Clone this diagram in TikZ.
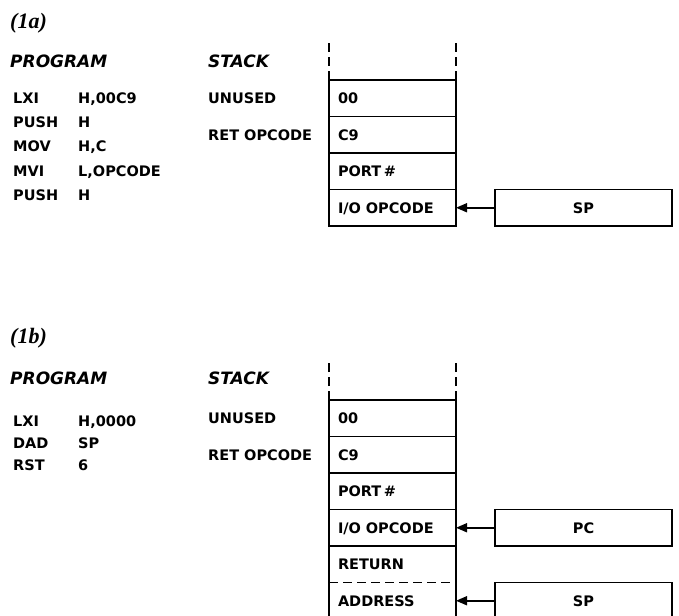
\documentclass[tikz,border=0pt]{standalone}
\usepackage{fontspec}
\setmainfont{DejaVu Sans}
\newfontfamily\capfont{Liberation Serif}
\usetikzlibrary{arrows.meta, positioning, calc}

\begin{document}
\begin{tikzpicture}[
  x=1pt, y=-1pt,
  cell/.style={rectangle, draw, line width=1.6pt, minimum height=36.5pt,
    minimum width=127pt, text width=109pt, inner xsep=9pt, outer sep=0pt,
    text height=10.5pt, text depth=0pt, align=left,
    font=\fontsize{14.5}{16}\selectfont\bfseries},
  reg/.style={rectangle, draw, line width=1.6pt, minimum height=36.5pt,
    minimum width=177pt, outer sep=0pt, text height=10.5pt, text depth=0pt,
    font=\fontsize{14.5}{16}\selectfont\bfseries},
  lbl/.style={anchor=west, inner sep=0pt, text height=10.5pt, text depth=0pt,
    font=\fontsize{14.5}{16}\selectfont\bfseries},
  head/.style={anchor=west, inner sep=0pt, text height=12.5pt, text depth=0pt,
    font=\fontsize{17}{20}\selectfont\bfseries\itshape},
  tag/.style={anchor=west, inner sep=0pt,
    font=\capfont\fontsize{22}{26}\selectfont\bfseries\itshape},
  signal/.style={-{Triangle[length=11pt, width=9pt]}, line width=1.6pt},
  rim/.style={line width=1.3pt, dash pattern=on 9pt off 5pt},
  node distance=0pt
]
\useasboundingbox (0,0) rectangle (679,615);
\clip (0,0) rectangle (679,615);

% (1a) headings
\node[tag] (fa) at (10,23) {(1a)};
\node[head] (proga) at (10,61) {PROGRAM};
\node[head] (stka) at (208,61) {STACK};

% (1a) program
\node[lbl] (la1) at (13,98) {LXI};   \node[lbl] (oa1) at (78,98) {H,00C9};
\node[lbl] (la2) at (13,122) {PUSH}; \node[lbl] (oa2) at (78,122) {H};
\node[lbl] (la3) at (13,146) {MOV};  \node[lbl] (oa3) at (78,146) {H,C};
\node[lbl] (la4) at (13,171) {MVI};  \node[lbl] (oa4) at (78,171) {L,OPCODE};
\node[lbl] (la5) at (13,195) {PUSH}; \node[lbl] (oa5) at (78,195) {H};

% (1a) stack
\node[cell, anchor=north west] (a1) at (329,80) {00};
\node[cell, below=of a1] (a2) {C9};
\node[cell, below=of a2] (a3) {PORT\,\#};
\node[cell, below=of a3] (a4) {I/O OPCODE};
\draw[rim] (a1.north west) -- ++(0,-40);
\draw[rim] (a1.north east) -- ++(0,-40);
\node[lbl] (una) at (a1.west -| stka.west) {UNUSED};
\node[lbl] (reta) at (a2.west -| stka.west) {RET OPCODE};

% (1a) pointer
\node[reg, right=39pt of a4] (spa) {SP};
\draw[signal] (spa) -- (a4);

% (1b) headings
\node[tag] (fb) at (10,338) {(1b)};
\node[head] (progb) at (10,378) {PROGRAM};
\node[head] (stkb) at (208,378) {STACK};

% (1b) program
\node[lbl] (lb1) at (13,421) {LXI}; \node[lbl] (ob1) at (78,421) {H,0000};
\node[lbl] (lb2) at (13,443) {DAD}; \node[lbl] (ob2) at (78,443) {SP};
\node[lbl] (lb3) at (13,465) {RST}; \node[lbl] (ob3) at (78,465) {6};

% (1b) stack
\node[cell, anchor=north west] (b1) at (329,400) {00};
\node[cell, below=of b1] (b2) {C9};
\node[cell, below=of b2] (b3) {PORT\,\#};
\node[cell, below=of b3] (b4) {I/O OPCODE};
\node[cell, draw=none, below=of b4] (b5) {RETURN};
\node[cell, draw=none, below=of b5] (b6) {ADDRESS};
\draw[line width=1.6pt] (b5.north west) rectangle (b6.south east);
\draw[line width=1.6pt, dash pattern=on 9pt off 5pt] (b5.south west) -- (b5.south east);
\draw[rim] (b1.north west) -- ++(0,-38);
\draw[rim] (b1.north east) -- ++(0,-38);
\node[lbl] (unb) at (b1.west -| stkb.west) {UNUSED};
\node[lbl] (retb) at (b2.west -| stkb.west) {RET OPCODE};

% (1b) pointers
\node[reg, right=39pt of b4] (pcb) {PC};
\node[reg, right=39pt of b6] (spb) {SP};
\draw[signal] (pcb) -- (b4);
\draw[signal] (spb) -- (b6);
\end{tikzpicture}
\end{document}
